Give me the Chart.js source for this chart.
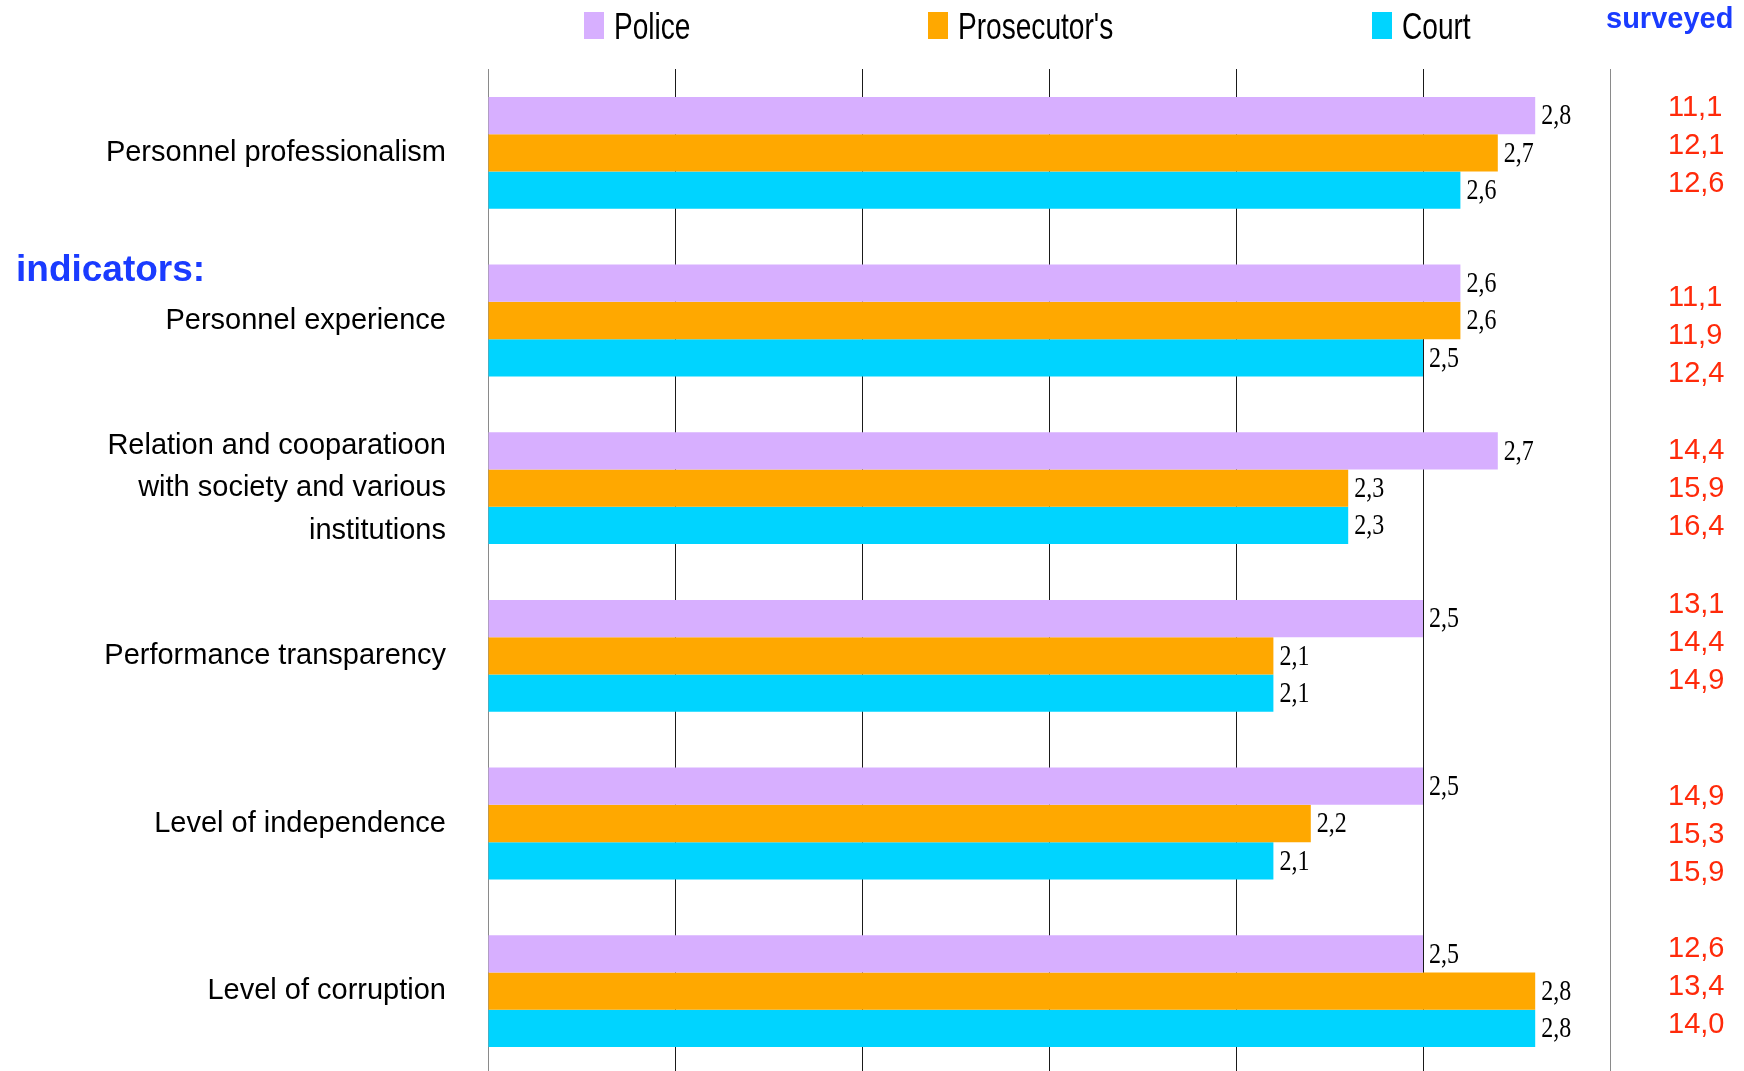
<!DOCTYPE html>
<html>
<head>
<meta charset="utf-8">
<script src="https://cdn.jsdelivr.net/npm/chart.js@4"></script>
<style>
  html, body { margin: 0; padding: 0; background: #ffffff; overflow: hidden; }
  #wrap { width: 1744px; height: 1075px; }
</style>
</head>
<body>
<div id="wrap"><canvas id="c" width="1744" height="1075"></canvas></div>
<script>
// ---- data ----
const categories = [
  "Personnel professionalism",
  "Personnel experience",
  ["Relation and cooparatioon", "with society and various", "institutions"],
  "Performance transparency",
  "Level of independence",
  "Level of corruption"
];
const seriesNames = ["Police", "Prosecutor's", "Court"];
const policeValues     = [2.8, 2.6, 2.7, 2.5, 2.5, 2.5];
const prosecutorValues = [2.7, 2.6, 2.3, 2.1, 2.2, 2.8];
const courtValues      = [2.6, 2.5, 2.3, 2.1, 2.1, 2.8];
const policeSurveyed     = [11.1, 11.1, 14.4, 13.1, 14.9, 12.6];
const prosecutorSurveyed = [12.1, 11.9, 15.9, 14.4, 15.3, 13.4];
const courtSurveyed      = [12.6, 12.4, 16.4, 14.9, 15.9, 14.0];
const xTicks = [0, 0.5, 1, 1.5, 2, 2.5, 3];

// ---- style ----
const colors = ['#D7AFFF', '#FFA800', '#00D4FF'];
const surveyedShift = [-8, 14, 0, -14, 10, -5];
const legendX = [584, 928, 1372];

const fmt = v => v.toFixed(1).replace('.', ',');

const annotations = {
  id: 'annotations',
  afterDatasetsDraw(chart) {
    const ctx = chart.ctx;
    ctx.save();
    ctx.fillStyle = '#000';
    ctx.font = '30px "Liberation Serif", "Times New Roman", serif';
    ctx.textBaseline = 'middle';
    ctx.textAlign = 'left';
    chart.data.datasets.forEach((ds, di) => {
      const meta = chart.getDatasetMeta(di);
      meta.data.forEach((bar, i) => {
        ctx.save();
        ctx.translate(bar.x + 6, bar.y + 1);
        ctx.scale(0.8, 1);
        ctx.fillText(fmt(ds.data[i]), 0, 0);
        ctx.restore();
      });
    });
    ctx.restore();
  },
  afterDraw(chart) {
    const ctx = chart.ctx;
    const yScale = chart.scales.y;
    const surveyed = [policeSurveyed, prosecutorSurveyed, courtSurveyed];
    ctx.save();
    ctx.fillStyle = '#FF2A0A';
    ctx.font = '29px "Liberation Sans", Arial, sans-serif';
    ctx.textBaseline = 'middle';
    ctx.textAlign = 'left';
    categories.forEach((c, i) => {
      const yc = yScale.getPixelForValue(i) + surveyedShift[i];
      surveyed.forEach((arr, j) => {
        ctx.fillText(fmt(arr[i]), 1668, yc + (j - 1) * 38 + 1);
      });
    });
    ctx.fillStyle = '#1A3BFF';
    ctx.textBaseline = 'alphabetic';
    ctx.font = 'bold 29px "Liberation Sans", Arial, sans-serif';
    ctx.fillText('surveyed', 1606, 28);
    ctx.font = 'bold 37px "Liberation Sans", Arial, sans-serif';
    ctx.fillText('indicators:', 16, 281);
    ctx.font = '36px "Liberation Sans", Arial, sans-serif';
    chart.data.datasets.forEach((ds, di) => {
      const x = legendX[di];
      ctx.fillStyle = ds.backgroundColor;
      ctx.fillRect(x, 12, 20, 27);
      ctx.fillStyle = '#000';
      ctx.save();
      ctx.translate(x + 30, 39);
      ctx.scale(0.78, 1);
      ctx.fillText(ds.label, 0, 0);
      ctx.restore();
    });
    ctx.restore();
  }
};

new Chart(document.getElementById('c'), {
  type: 'bar',
  data: {
    labels: categories,
    datasets: [
      { label: seriesNames[0], data: policeValues, backgroundColor: colors[0] },
      { label: seriesNames[1], data: prosecutorValues, backgroundColor: colors[1] },
      { label: seriesNames[2], data: courtValues, backgroundColor: colors[2] }
    ]
  },
  options: {
    indexAxis: 'y',
    responsive: false,
    animation: false,
    devicePixelRatio: 1,
    layout: { autoPadding: false, padding: { top: 69, right: 134, left: 0, bottom: 0 } },
    datasets: { bar: { categoryPercentage: 0.667, barPercentage: 1.0, borderWidth: 0 } },
    plugins: { legend: { display: false }, tooltip: { enabled: false }, title: { display: false } },
    scales: {
      x: {
        min: 0, max: 3,
        afterBuildTicks(scale) { scale.ticks = xTicks.map(v => ({ value: v })); },
        afterFit(scale) { scale.height = 0; scale.paddingLeft = 0; scale.paddingRight = 0; },
        ticks: { display: false },
        grid: {
          drawTicks: false, tickLength: 0, lineWidth: 1,
          color: ctx => (ctx.index === 0 || ctx.index === xTicks.length - 1) ? '#8a8a8a' : '#1a1a1a'
        },
        border: { display: false }
      },
      y: {
        grid: { display: false, drawTicks: false },
        border: { display: false },
        afterFit(scale) { scale.width = 488; scale.paddingTop = 0; scale.paddingBottom = 0; },
        ticks: {
          color: '#000',
          padding: 42,
          font: { family: '"Liberation Sans", Arial, sans-serif', size: 29, lineHeight: 1.46 }
        }
      }
    }
  },
  plugins: [annotations]
});
</script>
</body>
</html>
